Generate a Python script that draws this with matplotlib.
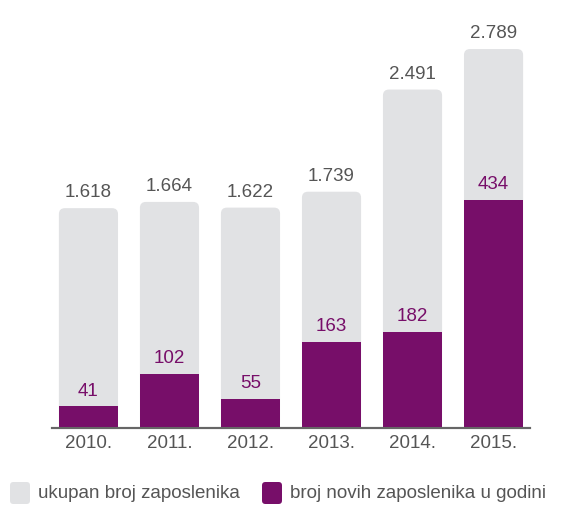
import matplotlib.pyplot as plt
from matplotlib.patches import FancyBboxPatch

plt.rcParams['font.family'] = ['Liberation Sans', 'DejaVu Sans']

# podaci
years = ['2010.', '2011.', '2012.', '2013.', '2014.', '2015.']
total_staff = [1618, 1664, 1622, 1739, 2491, 2789]
new_staff = [41, 102, 55, 163, 182, 434]
legend_labels = ['ukupan broj zaposlenika', 'broj novih zaposlenika u godini']

GREY = '#e1e2e4'
PURPLE = '#770e69'
INK = '#555555'
FS = 13.5

W, H = 571, 507
fig = plt.figure(figsize=(W / 100, H / 100), dpi=100)
ax_rect = [52 / W, 79 / H, 478 / W, 428 / H]
ax = fig.add_axes(ax_rect)
ax2 = ax.twinx()

x = list(range(len(years)))
bar_w = 0.73
ax.set_xlim(-0.45, len(years) - 0.55)
ax.set_ylim(0, 3150)
ax2.set_ylim(0, 815)

# sivi stupci sa zaobljenim vrhom
px_x = ax_rect[2] * W / (ax.get_xlim()[1] - ax.get_xlim()[0])
px_y = ax_rect[3] * H / (ax.get_ylim()[1] - ax.get_ylim()[0])
radius_px = 6
bars = ax.bar(x, total_staff, width=bar_w, color=GREY, visible=False)
for bar in bars:
    ax.add_patch(FancyBboxPatch(
        (bar.get_x(), 0), bar.get_width(), bar.get_height(),
        boxstyle=f'round,pad=0,rounding_size={radius_px / px_x}',
        mutation_aspect=px_x / px_y,
        facecolor=GREY, edgecolor='none',
    ))
for xi, v in zip(x, total_staff):
    ax.annotate(f'{v:,}'.replace(',', '.'), (xi, v), xytext=(0, 5),
                textcoords='offset points', ha='center', va='bottom',
                fontsize=FS, color=INK)

# ljubicasti stupci
ax2.bar(x, new_staff, width=bar_w, color=PURPLE)
for xi, v in zip(x, new_staff):
    ax2.annotate(str(v), (xi, v), xytext=(0, 5),
                 textcoords='offset points', ha='center', va='bottom',
                 fontsize=FS, color=PURPLE)

ax.set_xticks(x)
ax.set_xticklabels(years, fontsize=FS, color=INK)
ax.tick_params(axis='x', length=0, pad=5)
ax.set_yticks([])
ax2.set_yticks([])
for a in (ax, ax2):
    for s in ('top', 'right', 'left'):
        a.spines[s].set_visible(False)
    a.spines['bottom'].set_color('#666666')
    a.spines['bottom'].set_linewidth(1.5)
    a.patch.set_visible(False)

# legenda
legend_items = [(10, GREY, 38), (262, PURPLE, 290)]
for (mx, col, tx), label in zip(legend_items, legend_labels):
    fig.patches.append(FancyBboxPatch(
        (mx / W, (H - 504) / H), 20 / W, 22 / H,
        boxstyle='round,pad=0,rounding_size=0.006',
        mutation_aspect=W / H,
        transform=fig.transFigure, facecolor=col, edgecolor='none',
    ))
    fig.text(tx / W, (H - 494) / H, label, fontsize=FS, color=INK,
             va='center', ha='left')

plt.savefig('out.png', dpi=100)
